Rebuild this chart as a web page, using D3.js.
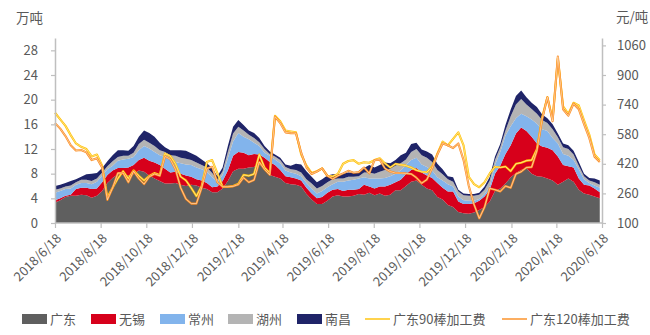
<!DOCTYPE html>
<html><head><meta charset="utf-8">
<script src="https://cdn.jsdelivr.net/npm/d3@7"></script>
<style>
body{margin:0;background:#fff}
text{font-family:"Noto Sans CJK SC","Microsoft YaHei",sans-serif;fill:#595959}
</style>
</head><body><svg id="c" width="650" height="335"></svg>
<script>
// ---- data (weekly, starting 2018-06-18) ----
const startDate = "2018-06-18";
const seriesNames = ["广东","无锡","常州","湖州","南昌"];
const lineNames = ["广东90棒加工费","广东120棒加工费"];
const guangdong = [3.3,3.7,4.2,4.4,4.4,4.6,4.5,4.1,4.4,5.2, 6.5,7.3,7.9,7.8,7.7,7.9,8.5,8.3,7.7,7.2, 6.8,6.4,6.4,6.5,6.2,6.0,6.2,6.1,5.7,5.5, 5.0,5.0,5.6,6.8,8.4,8.8,8.8,9.0,9.1,9.6, 8.7,7.8,7.5,7.2,6.5,6.3,6.2,5.9,4.7,3.8, 3.1,3.1,3.6,4.3,4.5,4.3,4.3,4.4,4.7,4.6, 4.9,4.5,4.8,4.4,4.6,5.3,5.3,6.0,6.7,6.9, 6.2,5.6,5.3,4.2,3.8,2.9,2.6,1.8,1.6,1.5, 1.7,2.1,2.6,3.5,5.2,5.6,6.4,7.4,8.1,8.6, 8.9,8.0,7.6,7.5,7.2,6.9,6.2,6.7,7.2,6.7, 5.4,4.8,4.6,4.3,4.0];
const wuxi = [0.4,0.3,0.2,0.2,1.1,1.1,1.2,1.4,1.2,1.4, 1.3,1.2,1.0,1.1,1.3,1.5,1.7,2.3,2.4,2.6, 2.6,2.4,1.8,1.8,1.8,1.7,1.3,1.0,1.2,1.0, 0.8,0.9,1.2,1.7,2.5,2.7,2.6,2.0,2.1,1.5, 1.9,2.1,1.9,1.4,1.1,1.1,1.0,1.0,1.0,1.0, 0.9,1.1,1.3,1.1,1.0,0.9,1.1,1.0,0.8,1.6, 1.0,1.1,1.1,1.5,1.6,1.3,1.7,1.9,1.9,2.0, 2.0,2.1,2.0,2.3,1.9,2.2,2.5,1.7,1.5,1.6, 1.5,1.5,1.7,1.9,2.8,3.7,4.8,5.2,6.4,6.9, 6.0,6.0,5.3,4.9,5.0,4.9,4.6,2.7,2.0,2.3, 1.8,1.4,1.5,1.3,1.0];
const changzhou = [1.2,1.2,1.1,1.0,0.7,0.8,0.8,0.8,1.1,1.1, 0.9,0.8,1.2,1.4,1.4,1.3,1.6,1.9,2.0,1.7, 1.6,1.9,2.0,1.6,1.7,1.8,1.9,1.9,1.8,1.8, 1.6,0.8,1.0,2.0,2.3,3.1,2.6,2.6,1.8,1.4, 0.8,1.0,0.9,1.1,0.9,0.8,0.8,0.7,0.8,0.8, 0.8,1.0,0.9,0.9,1.2,1.5,1.5,1.6,1.7,1.2, 1.3,1.6,1.3,1.4,1.4,1.4,1.5,1.5,1.6,1.7, 1.3,1.4,1.2,0.9,1.2,1.2,0.8,0.8,0.6,0.5, 0.4,0.3,0.4,0.5,1.4,2.2,3.0,3.1,2.5,2.2, 2.4,2.8,3.2,2.8,2.7,2.0,2.1,1.8,1.7,1.2, 1.5,0.9,0.4,0.5,0.7];
const huzhou = [0.5,0.4,0.4,0.5,0.4,0.5,0.5,0.5,0.5,0.5, 0.5,0.7,0.6,0.6,0.5,0.7,1.0,1.0,0.9,1.0, 0.8,0.8,0.8,1.0,0.9,0.9,0.8,0.8,0.7,0.7, 0.7,0.4,0.6,1.0,1.3,1.0,1.0,0.7,0.8,0.6, 0.6,0.3,0.5,0.5,0.6,0.5,0.6,0.6,0.6,0.8, 0.8,0.8,0.8,0.8,0.5,0.5,0.6,0.5,0.4,0.8, 1.0,0.8,1.1,1.3,1.2,1.3,1.2,0.9,1.3,1.4, 1.5,1.5,1.4,1.2,1.0,0.8,0.8,0.8,0.8,0.8, 0.8,0.7,0.7,1.0,0.8,0.8,0.8,1.6,2.2,2.4, 1.9,1.7,1.6,1.5,1.3,1.4,1.0,1.1,1.1,0.9, 0.6,0.5,0.4,0.5,0.5];
const nanchang = [0.6,0.6,0.6,0.7,0.5,0.5,0.9,1.2,0.9,0.7, 0.8,1.0,1.1,0.9,0.8,1.1,1.2,1.5,1.6,1.5, 1.2,0.8,0.8,0.9,1.2,1.3,1.1,1.1,0.9,0.7, 0.8,0.5,0.6,1.0,1.1,1.1,0.9,0.7,0.8,0.7, 0.5,0.4,0.3,0.4,0.4,0.6,1.0,1.3,1.3,1.1, 1.0,1.1,1.1,0.8,0.7,0.8,0.7,0.6,0.6,0.7, 1.2,1.0,1.1,1.2,0.9,0.9,1.3,1.1,1.3,1.0, 0.9,1.0,1.2,1.0,0.8,0.5,0.7,0.3,0.3,0.3, 0.3,0.3,0.5,0.6,0.6,0.5,0.9,1.1,1.4,1.4, 1.2,1.0,1.1,0.9,0.8,0.8,0.6,0.6,0.6,0.6, 0.6,0.4,0.4,0.6,0.7];
const fee90 = [696,660,625,575,530,512,500,460,470,410, 240,290,340,380,340,385,355,330,355,370, 360,475,462,420,350,330,290,245,300,430, 440,370,296,296,300,312,360,355,365,470, 400,370,680,650,600,595,590,470,410,370, 380,395,355,352,365,420,435,440,420,428, 426,440,450,422,400,420,415,410,400,385, 377,374,405,475,540,520,555,590,520,350, 310,293,320,368,404,400,405,380,420,426, 437,440,500,670,780,660,990,730,690,750, 735,655,578,470,440];
const fee120 = [640,610,570,520,492,495,482,440,450,400, 225,290,370,370,320,380,340,310,350,365, 355,460,445,390,290,230,205,205,290,395, 404,320,296,296,298,308,345,320,332,430, 390,360,675,640,590,586,585,480,400,365, 378,395,355,338,355,368,382,372,375,400, 368,440,442,395,378,370,370,368,365,345, 315,335,395,470,530,520,505,530,440,300, 200,125,185,287,280,270,300,290,365,377, 400,402,490,660,780,650,1000,715,680,745, 715,635,560,458,430];
const leftTicks = [0,4,8,12,16,20,24,28];
const rightTicks = [100,260,420,580,740,900,1060];
const xTickLabels = ["2018/6/18","2018/8/18","2018/10/18","2018/12/18","2019/2/18","2019/4/18","2019/6/18","2019/8/18","2019/10/18","2019/12/18","2020/2/18","2020/4/18","2020/6/18"];

// ---- build ----
const areaColors = ["#5f5f5f","#d7001b","#82b4ec","#b4b4b4","#1f2468"];
const lineColors = ["#ffc000","#fb8b1e"];
const parse = d3.timeParse("%Y-%m-%d");
const parseTick = d3.timeParse("%Y/%m/%d");
const t0 = parse(startDate);
const rows = guangdong.map((v,i)=>({
  date: d3.timeDay.offset(t0, 7*i),
  "广东": v, "无锡": wuxi[i], "常州": changzhou[i], "湖州": huzhou[i], "南昌": nanchang[i],
  f90: fee90[i], f120: fee120[i]
}));

const svg = d3.select("#c");
const x = d3.scaleTime().domain([parseTick("2018/6/18"), parseTick("2020/6/18")]).range([55,602]);
const yL = d3.scaleLinear().domain([0,30]).range([223,38]);
const yR = d3.scaleLinear().domain([100,1100]).range([223,38]);

const stack = d3.stack().keys(seriesNames)(rows);
const area = d3.area().x(d=>x(d.data.date)).y0(d=>yL(d[0])).y1(d=>yL(d[1]));
svg.append("g").selectAll("path").data(stack).join("path")
  .attr("d", area).attr("fill",(d,i)=>areaColors[i]);

// lines (double-stroke style)
[["f90",0],["f120",1]].forEach(([k,i])=>{
  const ln = d3.line().x(d=>x(d.date)).y(d=>yR(d[k]));
  svg.append("path").datum(rows).attr("d",ln).attr("fill","none")
    .attr("stroke",lineColors[i]).attr("stroke-width",2.1).attr("stroke-linejoin","round");
  svg.append("path").datum(rows).attr("d",ln).attr("fill","none")
    .attr("stroke","#fff").attr("stroke-opacity",0.7).attr("stroke-width",0.7).attr("stroke-linejoin","round");
});

// axes
const axColor = "#bfbfbf";
const gl = svg.append("g").attr("transform","translate(55,0)")
  .call(d3.axisLeft(yL).tickValues(leftTicks).tickSize(4).tickSizeOuter(0).tickPadding(13));
const gr = svg.append("g").attr("transform","translate(602,0)")
  .call(d3.axisRight(yR).tickValues(rightTicks).tickFormat(d3.format("d")).tickSize(4).tickSizeOuter(0).tickPadding(11));
const tickDates = xTickLabels.map(s=>parseTick(s));
const gb = svg.append("g").attr("transform","translate(0,223)")
  .call(d3.axisBottom(x).tickValues(tickDates).tickSize(5).tickSizeOuter(0).tickFormat(""));
[gl,gr,gb].forEach(g=>{
  g.select(".domain").attr("stroke",axColor).attr("stroke-width",1.5);
  g.selectAll(".tick line").attr("stroke",axColor).attr("stroke-width",1.2);
  g.selectAll("text").attr("fill","#595959").style("font-size","13px")
   .style("font-family",'"Noto Sans CJK SC",sans-serif');
});
gb.select(".domain").attr("d","M55,0H602");

// rotated x labels
svg.append("g").selectAll("text").data(xTickLabels).join("text")
  .attr("transform",d=>`translate(${x(parseTick(d))+4},236) rotate(-45)`)
  .attr("text-anchor","end").attr("dy","0.35em")
  .style("font-size","13px").text(d=>d);

// unit labels
svg.append("text").attr("x",16).attr("y",23).style("font-size","13.5px").text("万吨");
svg.append("text").attr("x",616).attr("y",22).style("font-size","13.5px").text("元/吨");

// legend
const legend = [
  {n:"广东",t:"rect",c:areaColors[0],x:22},
  {n:"无锡",t:"rect",c:areaColors[1],x:91},
  {n:"常州",t:"rect",c:areaColors[2],x:160},
  {n:"湖州",t:"rect",c:areaColors[3],x:228},
  {n:"南昌",t:"rect",c:areaColors[4],x:297},
  {n:lineNames[0],t:"line",c:lineColors[0],x:365},
  {n:lineNames[1],t:"line",c:lineColors[1],x:502}
];
const lg = svg.append("g").selectAll("g").data(legend).join("g")
  .attr("transform",d=>`translate(${d.x},319)`);
lg.filter(d=>d.t==="rect").append("rect").attr("x",0).attr("y",-5).attr("width",25).attr("height",10).attr("fill",d=>d.c);
lg.filter(d=>d.t==="line").append("line").attr("x1",0).attr("x2",25).attr("y1",0).attr("y2",0)
  .attr("stroke",d=>d.c).attr("stroke-width",1.4);
lg.append("text").attr("x",28).attr("y",0).attr("dy","0.35em").style("font-size","13px").text(d=>d.n);
</script></body></html>
